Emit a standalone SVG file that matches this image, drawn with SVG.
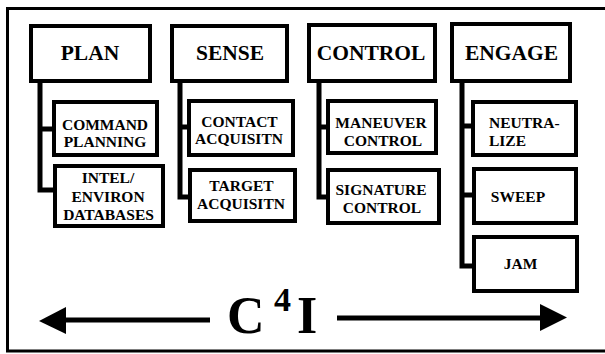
<svg xmlns="http://www.w3.org/2000/svg" width="605" height="354" viewBox="0 0 605 354">
<style>
.box{fill:#fff;stroke:#000;stroke-width:4}
.conn{fill:none;stroke:#000;stroke-width:5;stroke-linejoin:miter;stroke-linecap:butt}
.t{font-family:"Liberation Serif","Times New Roman",serif;font-weight:bold;fill:#000;text-anchor:middle}
.h{font-size:21.5px}
.s{font-size:15.5px}
.big{font-family:"Liberation Serif","Times New Roman",serif;font-weight:bold;fill:#000}
</style>
<rect x="0" y="0" width="605" height="354" fill="#fff"/>
<path d="M610 8.5 H7.5 V351 H610" fill="none" stroke="#000" stroke-width="3"/>
<g id="connectors">
<path class="conn" d="M40 83 V190 H53 M40 129 H52"/>
<path class="conn" d="M180 83 V197 H188 M180 127 H187"/>
<path class="conn" d="M319 83 V197 H326 M319 127 H326"/>
<path class="conn" d="M462 83 V266 H472 M462 126 H471 M462 195 H472"/>
<path class="conn" d="M65 320 H210"/>
<polygon points="39,321 66,307 66,334" fill="#000"/>
<path class="conn" d="M337 318 H541"/>
<polygon points="540,304 567,317.5 540,331" fill="#000"/>
</g>
<g id="plan"><rect class="box" x="31" y="26" width="119" height="55"/><text class="t h" x="90" y="60">PLAN</text></g>
<g id="sense"><rect class="box" x="172" y="26" width="115" height="55"/><text class="t h" x="230" y="60">SENSE</text></g>
<g id="control"><rect class="box" x="309" y="25" width="126" height="56"/><text class="t h" x="371" y="60">CONTROL</text></g>
<g id="engage"><rect class="box" x="452" y="24" width="118" height="57"/><text class="t h" x="511.5" y="60">ENGAGE</text></g>
<g id="command-planning"><rect class="box" x="54" y="102" width="103" height="53"/><text class="t s" x="105" y="130">COMMAND</text><text class="t s" x="105" y="147">PLANNING</text></g>
<g id="intel-environ"><rect class="box" x="55" y="166" width="108" height="60"/><text class="t s" x="108" y="183">INTEL/</text><text class="t s" x="108" y="202">ENVIRON</text><text class="t s" x="108.5" y="220">DATABASES</text></g>
<g id="contact-acquisitn"><rect class="box" x="189" y="101" width="104" height="54"/><text class="t s" x="239.5" y="127">CONTACT</text><text class="t s" x="239" y="144">ACQUISITN</text></g>
<g id="target-acquisitn"><rect class="box" x="190" y="170" width="105" height="51"/><text class="t s" x="241.5" y="191">TARGET</text><text class="t s" x="241" y="208.5">ACQUISITN</text></g>
<g id="maneuver-control"><rect class="box" x="328" y="101" width="108" height="52"/><text class="t s" x="381" y="128">MANEUVER</text><text class="t s" x="383" y="146">CONTROL</text></g>
<g id="signature-control"><rect class="box" x="328" y="170" width="111" height="53"/><text class="t s" x="381" y="195">SIGNATURE</text><text class="t s" x="382" y="213">CONTROL</text></g>
<g id="neutralize"><rect class="box" x="473" y="102" width="103" height="53"/><text class="t s" x="489" y="128" style="text-anchor:start">NEUTRA-</text><text class="t s" x="489" y="146" style="text-anchor:start">LIZE</text></g>
<g id="sweep"><rect class="box" x="474" y="169" width="102" height="54"/><text class="t s" x="518" y="201.5">SWEEP</text></g>
<g id="jam"><rect class="box" x="474" y="237" width="103" height="54"/><text class="t s" x="520.5" y="268.5">JAM</text></g>
<g id="c4i"><text class="big" x="227" y="333" font-size="52">C</text><text class="big" x="274" y="311" font-size="34">4</text><text class="big" x="297" y="333" font-size="52">I</text></g>
</svg>
